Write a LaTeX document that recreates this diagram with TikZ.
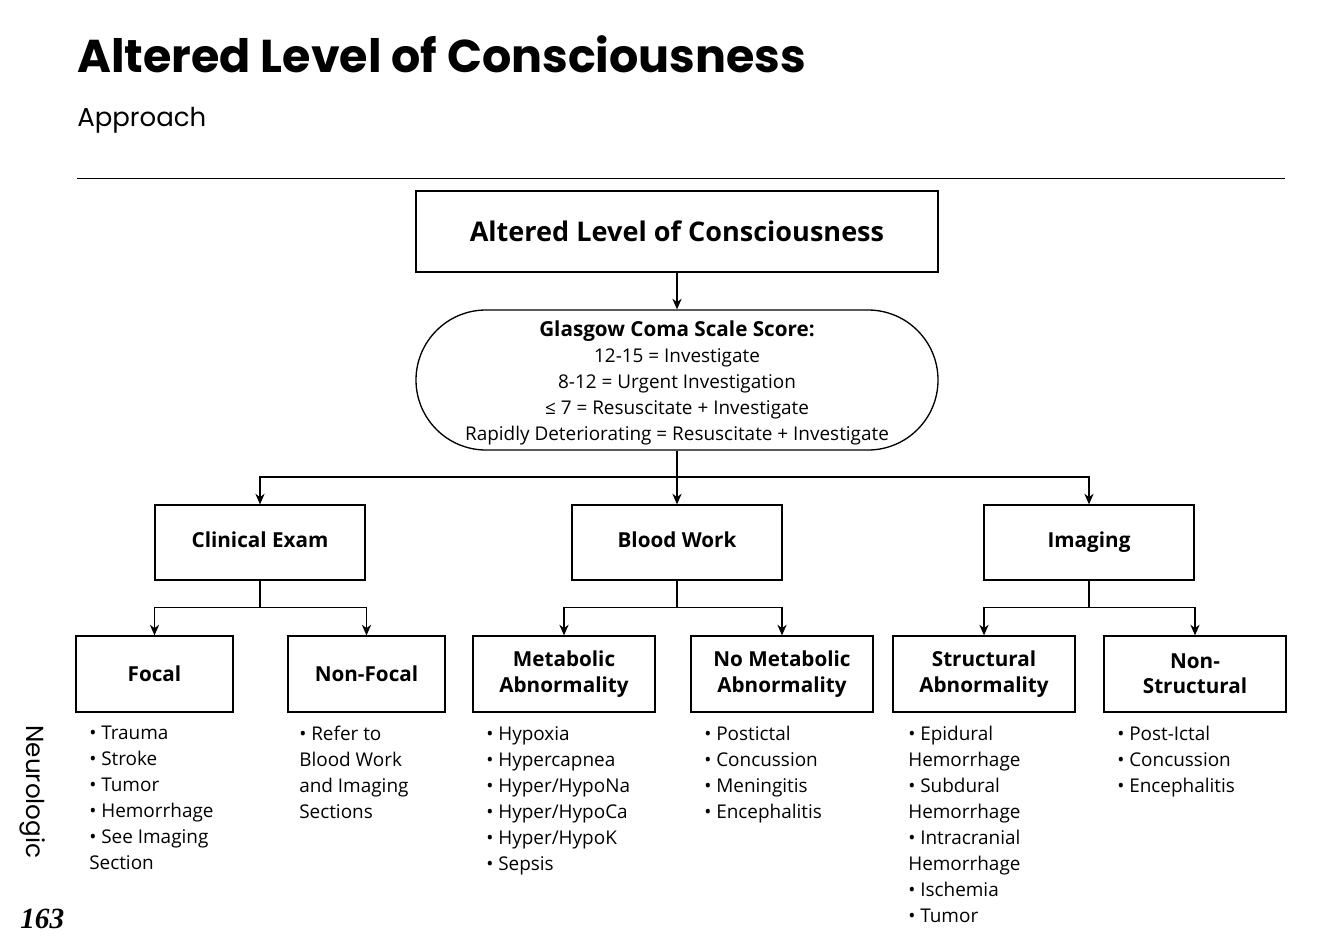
\documentclass[tikz,border=0pt]{standalone}
\usepackage{fontspec}
\setmainfont{Open Sans}
\newfontfamily\titlefont{Poppins}
\newfontfamily\numfont{Liberation Serif}
\usetikzlibrary{arrows.meta}
\begin{document}
\begin{tikzpicture}[x=0.75pt,y=-0.75pt,
  box/.style={draw,line width=1pt,inner sep=0pt,font=\bfseries\fontsize{15.5}{19}\selectfont,align=center},
  lst/.style={anchor=north west,align=left,inner sep=0pt,font=\fontsize{14.2}{19.5}\selectfont},
  arr/.style={-{Stealth[length=8pt,width=7pt]},line width=0.8pt},
  ln/.style={line width=0.8pt}]
\useasboundingbox (0,0) rectangle (1335,949);
\node[anchor=base west,inner sep=0pt,font=\titlefont\bfseries\fontsize{34.5}{38}\selectfont] (title) at (77,73) {Altered Level of Consciousness};
\node[anchor=base west,inner sep=0pt,font=\titlefont\fontsize{19.5}{22}\selectfont] (sub) at (77,127) {Approach};
\draw[line width=0.6pt] (77,178) coordinate (l1) -- (1285,178) coordinate (l2);
\node[box,minimum width=522*0.75pt,minimum height=81*0.75pt,font=\bfseries\fontsize{20.3}{24}\selectfont] (top) at (677,231.5) {Altered Level of Consciousness};
\node[draw,line width=1pt,rounded corners=70*0.75pt,minimum width=522*0.75pt,minimum height=140*0.75pt,inner sep=0pt] (gcs) at (677,380) {};
\node[align=center,inner sep=0pt,font=\fontsize{14.2}{19.5}\selectfont] (gcst) at (677,383) {{\bfseries\fontsize{15.5}{19.5}\selectfont Glasgow Coma Scale Score:}\\12-15 = Investigate\\8-12 = Urgent Investigation\\≤ 7 = Resuscitate + Investigate\\Rapidly Deteriorating = Resuscitate + Investigate};
\draw[arr] (top) -- (gcs);
\tikzset{b2/.style={box,minimum width=210*0.75pt,minimum height=75*0.75pt,text height=11pt,text depth=3pt}}
\node[b2] (ce) at (260,542.5) {Clinical Exam};
\node[b2] (bw) at (677,542.5) {Blood Work};
\node[b2] (im) at (1089,542.5) {Imaging};
\coordinate (j1) at (677,477);
\draw[ln] (gcs.south) -- (j1);
\draw[arr] (j1) -| (ce.north);
\draw[arr] (j1) -| (im.north);
\draw[arr] (j1) -- (bw.north);
\node[box,minimum width=157*0.75pt,minimum height=76*0.75pt] (fo) at (154.5,674) {Focal};
\node[box,minimum width=157*0.75pt,minimum height=76*0.75pt] (nf) at (366.5,674) {Non-Focal};
\node[box,minimum width=182*0.75pt,minimum height=76*0.75pt] (me) at (564,674) {Metabolic\\Abnormality};
\node[box,minimum width=182*0.75pt,minimum height=76*0.75pt] (nm) at (782,674) {No Metabolic\\Abnormality};
\node[box,minimum width=182*0.75pt,minimum height=76*0.75pt] (st) at (984,674) {Structural\\Abnormality};
\node[box,minimum width=182*0.75pt,minimum height=76*0.75pt] (ns) at (1195,674) {Non-\\Structural};
\foreach \p/\a/\b in {ce/fo/nf,bw/me/nm,im/st/ns}{
  \coordinate (\p j) at ([yshift=-27*0.75pt]\p.south);
  \draw[ln] (\p.south) -- (\p j);
  \draw[arr] (\p j) -| (\a.north);
  \draw[arr] (\p j) -| (\b.north);
}
\node[lst] (lfo) at (89,726) {• Trauma\\• Stroke\\• Tumor\\• Hemorrhage\\• See Imaging\\Section};
\node[lst] (lnf) at (299,726) {• Refer to\\Blood Work\\and Imaging\\Sections};
\node[lst] (lme) at (486,726) {• Hypoxia\\• Hypercapnea\\• Hyper/HypoNa\\• Hyper/HypoCa\\• Hyper/HypoK\\• Sepsis};
\node[lst] (lnm) at (704,726) {• Postictal\\• Concussion\\• Meningitis\\• Encephalitis};
\node[lst] (lst) at (908,726) {• Epidural\\Hemorrhage\\• Subdural\\Hemorrhage\\• Intracranial\\Hemorrhage\\• Ischemia\\• Tumor};
\node[lst] (lns) at (1117,726) {• Post-Ictal\\• Concussion\\• Encephalitis};
\node[rotate=-90,inner sep=0pt,font=\titlefont\fontsize{18.5}{20}\selectfont] (neu) at (33,792) {Neurologic};
\node[anchor=base west,inner sep=0pt,font=\numfont\bfseries\itshape\fontsize{22}{24}\selectfont] (pg) at (20,928) {163};
\end{tikzpicture}
\end{document}
